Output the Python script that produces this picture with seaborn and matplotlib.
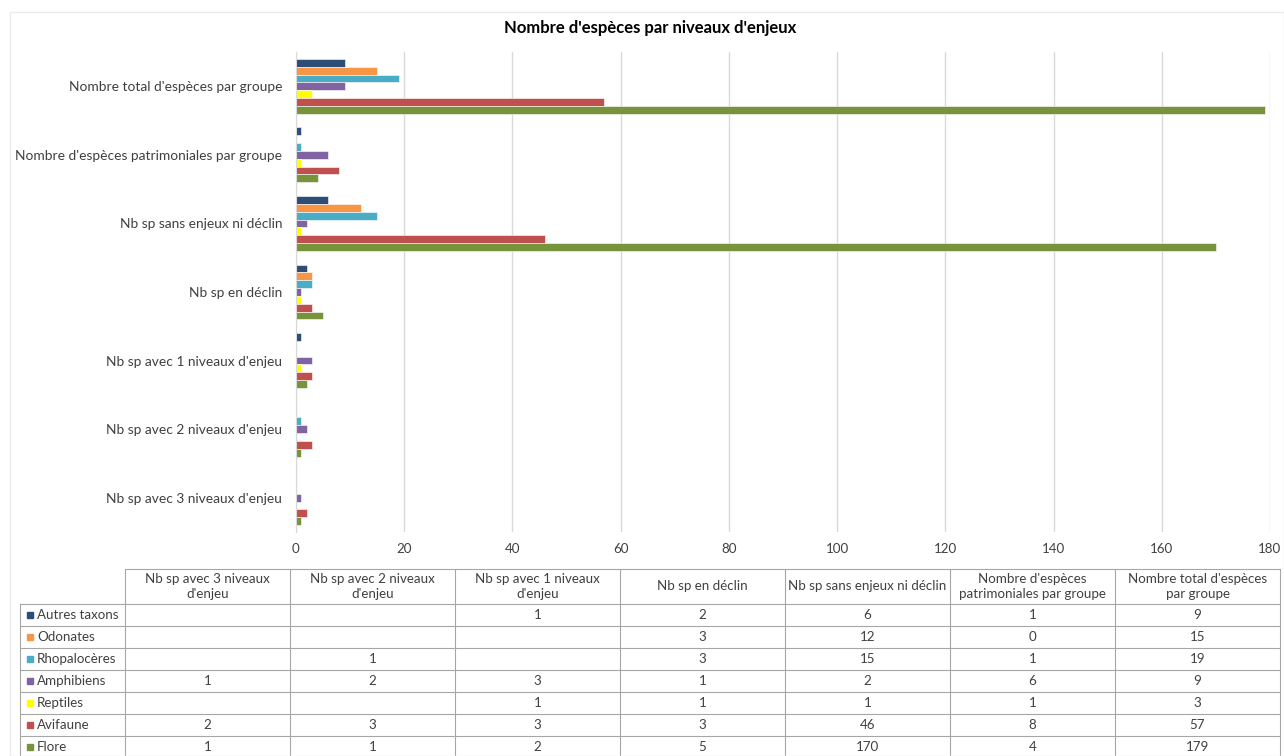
import numpy as np
import pandas as pd
import matplotlib
matplotlib.use("Agg")
import matplotlib.pyplot as plt
import seaborn as sns

# categories in table order (bottom to top of the chart)
categories = ["Nb sp avec 3 niveaux d'enjeu", "Nb sp avec 2 niveaux d'enjeu",
              "Nb sp avec 1 niveaux d'enjeu", "Nb sp en déclin",
              "Nb sp sans enjeux ni déclin", "Nombre d'espèces patrimoniales par groupe",
              "Nombre total d'espèces par groupe"]
header_labels = ["Nb sp avec 3 niveaux\nd'enjeu", "Nb sp avec 2 niveaux\nd'enjeu",
                 "Nb sp avec 1 niveaux\nd'enjeu", "Nb sp en déclin",
                 "Nb sp sans enjeux ni déclin", "Nombre d'espèces\npatrimoniales par groupe",
                 "Nombre total d'espèces\npar groupe"]

groupes = ["Autres taxons", "Odonates", "Rhopalocères", "Amphibiens", "Reptiles", "Avifaune", "Flore"]

autres_taxons = [None, None, 1, 2, 6, 1, 9]
odonates = [None, None, None, 3, 12, 0, 15]
rhopaloceres = [None, 1, None, 3, 15, 1, 19]
amphibiens = [1, 2, 3, 1, 2, 6, 9]
reptiles = [None, None, 1, 1, 1, 1, 3]
avifaune = [2, 3, 3, 3, 46, 8, 57]
flore = [1, 1, 2, 5, 170, 4, 179]

couleurs = {"Autres taxons": "#2C4D75", "Odonates": "#F79646", "Rhopalocères": "#4BACC6",
            "Amphibiens": "#8064A2", "Reptiles": "#FFFF00", "Avifaune": "#C0504D",
            "Flore": "#77933C"}

valeurs = [autres_taxons, odonates, rhopaloceres, amphibiens, reptiles, avifaune, flore]

rows = []
for g, vals in zip(groupes, valeurs):
    for c, v in zip(categories, vals):
        rows.append({"groupe": g, "categorie": c, "valeur": v})
df = pd.DataFrame(rows)
df_bars = df.dropna(subset=["valeur"])

sns.set_style("white")
plt.rcParams['font.family'] = ['Lato', 'DejaVu Sans']

W, H = 1284, 756
fig = plt.figure(figsize=(W / 100, H / 100), dpi=100)

# faint chart border
fig.patches.append(plt.Rectangle((10 / W, 0), 1 - 10 / W, 1 - 12 / H, transform=fig.transFigure,
                                 fill=False, edgecolor="#EBEBEB", lw=1))

ax = fig.add_axes([296 / W, 1 - 532 / H, 974 / W, 480 / H])
sns.barplot(data=df_bars, y="categorie", x="valeur", hue="groupe",
            order=categories[::-1], hue_order=groupes, palette=couleurs,
            orient="h", width=0.8, ax=ax, legend=False, saturation=1,
            edgecolor="#FFFFFF", linewidth=0.4)
ax.set_xlim(0, 180)
ax.set_xticks(range(0, 181, 20))
ax.xaxis.grid(True, color="#D9D9D9", lw=1)
ax.set_axisbelow(True)
for s in ["top", "right", "bottom"]:
    ax.spines[s].set_visible(False)
ax.spines["left"].set_color("#D9D9D9")
ax.tick_params(axis="both", length=0, labelcolor="#404040")
ax.tick_params(axis="y", pad=10, labelsize=9.9)
ax.tick_params(axis="x", pad=8, labelsize=9.6)
ax.set_xlabel("")
ax.set_ylabel("")

fig.text(0.506, 1 - 28 / H, "Nombre d'espèces par niveaux d'enjeux", ha="center", va="center",
         fontsize=12, fontweight="bold", color="#000000")

# data table under the chart
col_widths = [105] + [165] * 7
header_h, row_h = 35, 22
tot_w = sum(col_widths)
tot_h = header_h + row_h * len(groupes)
tax = fig.add_axes([20 / W, 1 - (569 + tot_h) / H, tot_w / W, tot_h / H])
tax.set_xlim(0, tot_w)
tax.set_ylim(tot_h, 0)
tax.axis("off")
edges = np.concatenate([[0], np.cumsum(col_widths)])
line_kw = dict(color="#A6A6A6", lw=0.8, clip_on=False)
fs = 9.6

tax.plot([edges[1], tot_w], [0, 0], **line_kw)
for i in range(len(groupes) + 1):
    y = header_h + i * row_h
    tax.plot([0, tot_w], [y, y], **line_kw)
for j, x in enumerate(edges):
    y0 = header_h if j == 0 else 0
    tax.plot([x, x], [y0, tot_h], **line_kw)

for j, lab in enumerate(header_labels):
    cx = (edges[j + 1] + edges[j + 2]) / 2
    tax.text(cx, header_h / 2, lab, ha="center", va="center", fontsize=fs,
             color="#404040", linespacing=1.25)

for i, (g, vals) in enumerate(zip(groupes, valeurs)):
    cy = header_h + (i + 0.5) * row_h
    tax.plot([10], [cy], marker="s", ms=5, color=couleurs[g], clip_on=False)
    tax.text(17, cy, g, ha="left", va="center", fontsize=fs, color="#404040")
    for j, v in enumerate(vals):
        if v is None:
            continue
        cx = (edges[j + 1] + edges[j + 2]) / 2
        tax.text(cx, cy, str(v), ha="center", va="center", fontsize=fs, color="#404040")

fig.savefig("out.png", dpi=100)
